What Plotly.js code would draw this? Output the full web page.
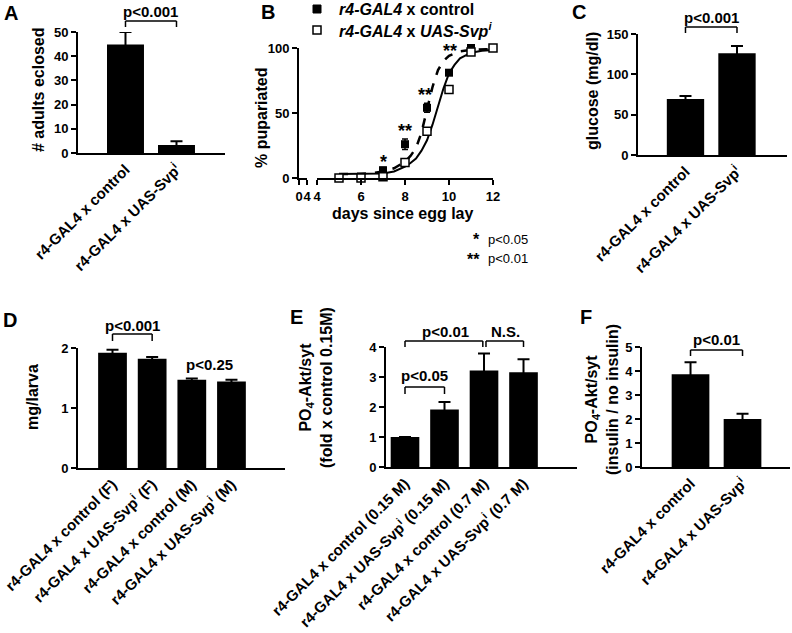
<!DOCTYPE html>
<html><head><meta charset="utf-8">
<script src="https://cdn.plot.ly/plotly-3.0.1.min.js"></script>
<style>html,body{margin:0;padding:0;background:#fff}#chart{width:792px;height:633px}</style>
</head><body><div id="chart"></div>
<script>
// ---------------- data ----------------
const catsTwo = ['r4-GAL4 x control', 'r4-GAL4 x UAS-Svp<sup>i</sup>'];
const catsSex = ['r4-GAL4 x control (F)', 'r4-GAL4 x UAS-Svp<sup>i</sup> (F)', 'r4-GAL4 x control (M)', 'r4-GAL4 x UAS-Svp<sup>i</sup> (M)'];
const catsSalt = ['r4-GAL4 x control (0.15 M)', 'r4-GAL4 x UAS-Svp<sup>i</sup> (0.15 M)', 'r4-GAL4 x control (0.7 M)', 'r4-GAL4 x UAS-Svp<sup>i</sup> (0.7 M)'];

const adultsEclosed = [44.8, 3.3];
const adultsEclosedErr = [5.2, 1.6];

const days = [5, 6, 7, 8, 9, 10, 11, 12];
const controlPct = [0, 0.5, 6, 26, 54, 81, 100, 100];
const controlPctErr = [0.5, 0.5, 2, 4, 3.5, 2, 0.5, 0.5];
const svpPct = [0, 0, 1, 12, 36, 68, 97, 100];
const svpPctErr = [0, 0, 0.8, 1.5, 2, 2, 1, 0];

const fitDays = [5, 5.5, 6, 6.5, 7, 7.5, 8, 8.25, 8.5, 8.75, 9, 9.25, 9.5, 9.75, 10, 10.25, 10.5, 11, 11.5, 12];
const controlFit = [3, 3, 3.3, 3.8, 5, 7.5, 12.5, 17, 23, 35, 53, 70, 83, 90, 94, 96, 97.5, 98.5, 99, 99.3];
const svpFit = [3, 3, 3, 3.2, 3.5, 5, 8.7, 11.5, 15, 21, 29, 41, 55, 69, 80.5, 87, 92, 96.4, 97.8, 98.5];

const glucose = [69.5, 126];
const glucoseErr = [3.5, 9];

const mgPerLarva = [1.92, 1.82, 1.47, 1.44];
const mgPerLarvaErr = [0.05, 0.03, 0.02, 0.03];

const aktSalt = [1.0, 1.92, 3.22, 3.16];
const aktSaltErr = [0, 0.25, 0.56, 0.43];

const aktInsulin = [3.86, 2.0];
const aktInsulinErr = [0.5, 0.22];

// ---------------- layout helpers ----------------
const W = 792, H = 633;
const FONT = 'Liberation Sans, Arial, Helvetica, sans-serif';
const px = p => p / W;
const py = p => 1 - p / H;

function valAxis(bottomPx, topPx, range, tickvals, anchor) {
  return {
    domain: [py(bottomPx), py(topPx)], range, tickvals, anchor,
    ticks: 'outside', ticklen: 5, tickwidth: 2, tickcolor: '#000',
    showline: true, linewidth: 2, linecolor: '#000',
    showgrid: false, zeroline: false, fixedrange: true,
    tickfont: {family: FONT, size: 13, weight: 'bold', color: '#000'}
  };
}
function catAxis(leftPx, rightPx, range, anchor) {
  return {
    domain: [px(leftPx), px(rightPx)], range, type: 'category', anchor,
    showline: true, linewidth: 2, linecolor: '#000', ticks: '',
    showgrid: false, zeroline: false, tickangle: -45, fixedrange: true,
    tickfont: {family: FONT, size: 15, weight: 'bold', color: '#000'}
  };
}
function linAxis(leftPx, rightPx, range, tickvals, anchor) {
  return {
    domain: [px(leftPx), px(rightPx)], range, tickvals, anchor,
    ticks: 'outside', ticklen: 5, tickwidth: 2, tickcolor: '#000', tickangle: 0,
    showline: true, linewidth: 2, linecolor: '#000',
    showgrid: false, zeroline: false, fixedrange: true,
    tickfont: {family: FONT, size: 13, weight: 'bold', color: '#000'}
  };
}

const layout = {
  width: W, height: H, margin: {l: 0, r: 0, t: 0, b: 0},
  paper_bgcolor: '#fff', plot_bgcolor: 'rgba(0,0,0,0)',
  font: {family: FONT, color: '#000'},
  xaxis: catAxis(78, 225, [-0.931, 1.951], 'y'),
  yaxis: valAxis(153, 32, [0, 50], [0, 10, 20, 30, 40, 50], 'x'),
  xaxis2: linAxis(299, 307, [0, 4], [0, 4], 'y2'),
  yaxis2: valAxis(178, 48, [0, 100], [0, 50, 100], 'x2'),
  xaxis3: linAxis(317, 493, [4, 12], [4, 6, 8, 10, 12], 'y2'),
  xaxis4: catAxis(638, 787, [-0.922, 1.971], 'y4'),
  yaxis4: valAxis(155, 34, [0, 150], [0, 50, 100, 150], 'x4'),
  xaxis5: catAxis(78, 285, [-0.870, 4.35], 'y5'),
  yaxis5: valAxis(468, 348, [0, 2], [0, 1, 2], 'x5'),
  xaxis6: catAxis(386, 577, [-0.481, 4.354], 'y6'),
  yaxis6: valAxis(467, 347, [0, 4], [0, 1, 2, 3, 4], 'x6'),
  xaxis7: catAxis(642, 790, [-0.933, 1.913], 'y7'),
  yaxis7: valAxis(467, 347, [0, 5], [0, 1, 2, 3, 4, 5], 'x7'),
  showlegend: false,
  shapes: [], annotations: []
};

function catX(axName, i) {
  const ax = layout[axName];
  return ax.domain[0] + (i - ax.range[0]) / (ax.range[1] - ax.range[0]) * (ax.domain[1] - ax.domain[0]);
}
function bracket(axName, i0, i1, topPx, legPx) {
  const x0 = catX(axName, i0), x1 = catX(axName, i1);
  const ln = {type: 'line', xref: 'paper', yref: 'paper', line: {color: '#000', width: 1.5}};
  layout.shapes.push(Object.assign({}, ln, {x0, x1, y0: py(topPx), y1: py(topPx)}));
  layout.shapes.push(Object.assign({}, ln, {x0, x1: x0, y0: py(topPx), y1: py(legPx)}));
  layout.shapes.push(Object.assign({}, ln, {x0: x1, x1, y0: py(topPx), y1: py(legPx)}));
}
function note(text, x, yPx, opts) {
  layout.annotations.push(Object.assign({
    text, x, y: py(yPx), xref: 'paper', yref: 'paper', showarrow: false,
    xanchor: 'center', yanchor: 'middle',
    font: {family: FONT, size: 15, weight: 'bold', color: '#000'}
  }, opts || {}));
}
function ytitle(text, xPx, yPx, size) {
  note(text, px(xPx), yPx, {textangle: -90, font: {family: FONT, size: size || 16, weight: 'bold', color: '#000'}});
}

// panel letters
[['A', 11, 13], ['B', 268, 12], ['C', 579, 12], ['D', 10, 320], ['E', 296, 317], ['F', 586, 317]]
  .forEach(([t, x, y]) => note(t, px(x), y, {font: {family: FONT, size: 20, weight: 'bold', color: '#000'}}));

// legend of panel B (key glyphs + labels)
layout.shapes.push({type: 'rect', xref: 'paper', yref: 'paper', x0: px(313), x1: px(321), y0: py(13), y1: py(5),
  fillcolor: '#000', line: {color: '#000', width: 1}});
layout.shapes.push({type: 'rect', xref: 'paper', yref: 'paper', x0: px(313), x1: px(321), y0: py(34), y1: py(26),
  fillcolor: '#fff', line: {color: '#000', width: 1.5}});
note('<i>r4-GAL4</i> x control', px(337), 9, {xanchor: 'left', font: {family: FONT, size: 16, weight: 'bold', color: '#000'}});
note('<i>r4-GAL4</i> x <i>UAS-Svp<sup>i</sup></i>', px(337), 30, {xanchor: 'left', font: {family: FONT, size: 16, weight: 'bold', color: '#000'}});

// axis titles
ytitle('# adults eclosed', 38, 90);
ytitle('% pupariated', 262, 118);
ytitle('glucose (mg/dl)', 593, 91);
ytitle('mg/larva', 32, 397);
ytitle('PO<sub>4</sub>-Akt/syt<br>(fold x control 0.15M)', 316, 388);
ytitle('PO<sub>4</sub>-Akt/syt<br>(insulin / no insulin)', 602, 400);
note('days since egg lay', px(403), 213, {font: {family: FONT, size: 16, weight: 'bold', color: '#000'}});

// brackets and p-values
bracket('xaxis', 0, 1, 21, 27);  note('p<0.001', catX('xaxis', 0.5), 11);
bracket('xaxis4', 0, 1, 27, 33); note('p<0.001', catX('xaxis4', 0.5), 18);
bracket('xaxis5', 0, 1, 334, 341); note('p<0.001', catX('xaxis5', 0.5), 325);
note('p<0.25', catX('xaxis5', 2.45), 364);
bracket('xaxis6', 0, 1, 387, 394); note('p<0.05', catX('xaxis6', 0.5), 376);
bracket('xaxis6', 0, 1.97, 341, 347); note('p<0.01', catX('xaxis6', 1.03), 331);
bracket('xaxis6', 2.05, 3, 341, 347); note('N.S.', catX('xaxis6', 2.55), 331);
bracket('xaxis7', 0, 1, 350, 356); note('p<0.01', catX('xaxis7', 0.5), 339);

// significance stars on B
[[7, 162, '*'], [8, 131, '**'], [8.9, 95, '**'], [10.05, 51, '**']].forEach(([d, y, t]) => {
  layout.annotations.push({text: t, x: d, xref: 'x3', y: py(y), yref: 'paper', showarrow: false,
    xanchor: 'center', yanchor: 'middle', font: {family: FONT, size: 18, weight: 'bold', color: '#000'}});
});
// footnote
note('*', px(482), 240, {xanchor: 'right', font: {family: FONT, size: 16, weight: 'bold', color: '#000'}});
note('**', px(482), 259, {xanchor: 'right', font: {family: FONT, size: 16, weight: 'bold', color: '#000'}});
note('p<0.05', px(486), 240, {xanchor: 'left', font: {family: FONT, size: 13, color: '#000'}});
note('p<0.01', px(486), 258, {xanchor: 'left', font: {family: FONT, size: 13, color: '#000'}});

// ---------------- traces ----------------
function barTrace(x, y, err, xa, ya) {
  return {type: 'bar', x, y, xaxis: xa, yaxis: ya, width: 0.725, showlegend: false,
    marker: {color: '#000', line: {width: 0}},
    error_y: {type: 'data', array: err, visible: true, color: '#000', thickness: 2, width: 6}};
}
const traces = [
  barTrace(catsTwo, adultsEclosed, adultsEclosedErr, 'x', 'y'),
  // empty trace that registers the short first segment of panel B's broken x-axis
  {type: 'scatter', mode: 'markers', x: [], y: [], xaxis: 'x2', yaxis: 'y2', showlegend: false, hoverinfo: 'skip'},
  {type: 'scatter', mode: 'lines', x: fitDays, y: svpFit, xaxis: 'x3', yaxis: 'y2', showlegend: false,
   line: {color: '#000', width: 2}, cliponaxis: false},
  {type: 'scatter', mode: 'lines', x: fitDays, y: controlFit, xaxis: 'x3', yaxis: 'y2', showlegend: false,
   line: {color: '#000', width: 2.5, dash: 'dash'}, cliponaxis: false},
  {type: 'scatter', mode: 'markers', x: days, y: controlPct, xaxis: 'x3', yaxis: 'y2',
   name: 'r4-GAL4 x control', cliponaxis: false,
   marker: {symbol: 'square', size: 8, color: '#000'},
   error_y: {type: 'data', array: controlPctErr, color: '#000', thickness: 1.5, width: 3}},
  {type: 'scatter', mode: 'markers', x: days, y: svpPct, xaxis: 'x3', yaxis: 'y2',
   name: 'r4-GAL4 x UAS-Svp<sup>i</sup>', cliponaxis: false,
   marker: {symbol: 'square', size: 8, color: '#fff', line: {color: '#000', width: 1.5}},
   error_y: {type: 'data', array: svpPctErr, color: '#000', thickness: 1.5, width: 3}},
  barTrace(catsTwo, glucose, glucoseErr, 'x4', 'y4'),
  barTrace(catsSex, mgPerLarva, mgPerLarvaErr, 'x5', 'y5'),
  barTrace(catsSalt, aktSalt, aktSaltErr, 'x6', 'y6'),
  barTrace(catsTwo, aktInsulin, aktInsulinErr, 'x7', 'y7')
];

Plotly.newPlot('chart', traces, layout, {displayModeBar: false, staticPlot: true});
</script>
</body></html>
